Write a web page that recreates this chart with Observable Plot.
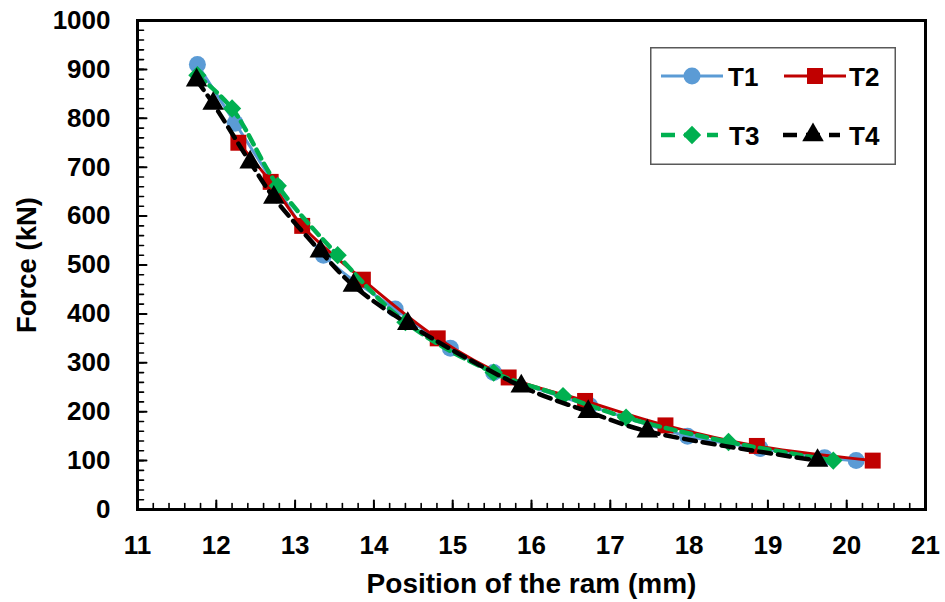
<!DOCTYPE html>
<html>
<head>
<meta charset="utf-8">
<script src="https://cdn.jsdelivr.net/npm/d3@7"></script>
<script src="https://cdn.jsdelivr.net/npm/@observablehq/plot@0.6"></script>
<style>
  html, body { margin: 0; padding: 0; background: #fff; }
  #wrap { position: relative; width: 945px; height: 602px; }
  #legend { position: absolute; left: 650px; top: 47px; }
  svg text { font-family: "Liberation Sans", Arial, sans-serif; }
</style>
</head>
<body>
<div id="wrap"></div>
<script>
// ---- data ----
const T1x = [11.76, 12.24, 12.76, 13.36, 14.27, 14.97, 15.52, 16.74, 17.98, 18.9, 19.72, 20.12];
const T1y = [910, 790, 660, 520, 410, 330, 280, 212, 150, 125, 106, 100];

const T2x = [12.28, 12.69, 13.09, 13.86, 14.81, 15.71, 16.68, 17.70, 18.86, 20.33];
const T2y = [750, 670, 580, 470, 350, 270, 222, 172, 130, 100];

const T3x = [11.76, 12.2, 12.78, 13.54, 14.4, 15.52, 16.4, 17.2, 18.5, 19.83];
const T3y = [888, 820, 662, 520, 383, 280, 232, 188, 138, 100];

const T4x = [11.75, 11.96, 12.43, 12.73, 13.32, 13.74, 14.43, 15.87, 16.72, 17.47, 19.63];
const T4y = [878, 830, 710, 638, 528, 458, 380, 252, 200, 160, 100];

const seriesNames = ["T1", "T2", "T3", "T4"];
const xTicks = [11, 12, 13, 14, 15, 16, 17, 18, 19, 20, 21];
const yTicks = [0, 100, 200, 300, 400, 500, 600, 700, 800, 900, 1000];
const xTitle = "Position of the ram (mm)";
const yTitle = "Force (kN)";

const styles = {
  T1: {color: "#5B9BD5", width: 3, dash: null, symbol: "circle", r: 8.5, rotate: 0},
  T2: {color: "#C00000", width: 3, dash: null, symbol: "square", r: 9, rotate: 0},
  T3: {color: "#00B050", width: 4.5, dash: "10,6", symbol: "square", r: 7.3, rotate: 45},
  T4: {color: "#000000", width: 4.5, dash: "12,7", symbol: "triangle", r: 8, rotate: 0}
};

const toRows = (xs, ys) => xs.map((x, i) => ({x, y: ys[i]}));
const data = {T1: toRows(T1x, T1y), T2: toRows(T2x, T2y), T3: toRows(T3x, T3y), T4: toRows(T4x, T4y)};

const xDomain = [11, 21];
const yDomain = [0, 1000];
const minorX = d3.range(110, 211, 2).map(d => d / 10);
const minorY = d3.range(0, 1001, 20);

// plain straight tick shape for vectors
const tickShape = {draw(context, l) { context.moveTo(0, 0); context.lineTo(0, -l); }};

const marks = [];
for (const name of seriesNames) {
  const s = styles[name];
  marks.push(Plot.line(data[name], {x: "x", y: "y", stroke: s.color, strokeWidth: s.width,
    strokeDasharray: s.dash, curve: "catmull-rom"}));
  marks.push(Plot.dot(data[name], {x: "x", y: "y", symbol: () => s.symbol, fill: s.color, stroke: "none",
    r: s.r, rotate: s.rotate}));
}

const chart = Plot.plot({
  width: 945,
  height: 602,
  marginLeft: 137,
  marginRight: 20,
  marginTop: 20,
  marginBottom: 93,
  style: {fontFamily: "'Liberation Sans', Arial, sans-serif", background: "#fff", color: "#000"},
  x: {domain: xDomain},
  y: {domain: yDomain},
  marks: [
    ...marks,
    // inward ticks drawn from the axis edges (domain minimums)
    Plot.vector(minorX, {x: d => d, y: () => yDomain[0], length: 6, rotate: 0, anchor: "start", shape: tickShape, stroke: "#000", strokeWidth: 1.6}),
    Plot.vector(xTicks, {x: d => d, y: () => yDomain[0], length: 9, rotate: 0, anchor: "start", shape: tickShape, stroke: "#000", strokeWidth: 2}),
    Plot.vector(minorY, {x: () => xDomain[0], y: d => d, length: 6, rotate: 90, anchor: "start", shape: tickShape, stroke: "#000", strokeWidth: 1.6}),
    Plot.vector(yTicks, {x: () => xDomain[0], y: d => d, length: 9, rotate: 90, anchor: "start", shape: tickShape, stroke: "#000", strokeWidth: 2}),
    // tick labels
    Plot.axisX(xTicks, {tickSize: 0, tickPadding: 26, fontSize: 26, fontWeight: "bold", label: null, tickFormat: d => String(d)}),
    Plot.axisY(yTicks, {tickSize: 0, tickPadding: 27, fontSize: 26, fontWeight: "bold", label: null, tickFormat: d => String(d)}),
    // titles
    Plot.axisX([], {tickSize: 0, label: xTitle, labelAnchor: "center", labelArrow: "none", labelOffset: 83, fontSize: 28, fontWeight: "bold"}),
    Plot.axisY([], {tickSize: 0, label: yTitle, labelAnchor: "center", labelArrow: "none", labelOffset: 121, fontSize: 27.5, fontWeight: "bold"}),
    Plot.frame({stroke: "#000", strokeWidth: 3})
  ]
});

document.getElementById("wrap").appendChild(chart);

// ---- legend overlay ----
const lg = d3.select("#wrap").append("svg").attr("id", "legend")
  .attr("width", 246).attr("height", 118);
lg.append("rect").attr("x", 0.75).attr("y", 0.75).attr("width", 244.5).attr("height", 116.5)
  .attr("fill", "#fff").attr("stroke", "#595959").attr("stroke-width", 1.5);
const layout = [
  {name: "T1", cx: 42, cy: 29, x0: 11, x1: 73, tx: 78},
  {name: "T2", cx: 165, cy: 29, x0: 134, x1: 196, tx: 199},
  {name: "T3", cx: 42, cy: 88, x0: 11, x1: 68, tx: 79},
  {name: "T4", cx: 163, cy: 88, x0: 133, x1: 190, tx: 199}
];
for (const it of layout) {
  const s = styles[it.name];
  lg.append("line").attr("x1", it.x0).attr("x2", it.x1).attr("y1", it.cy).attr("y2", it.cy)
    .attr("stroke", s.color).attr("stroke-width", s.width)
    .attr("stroke-dasharray", s.dash ? "14,9" : null);
  const sym = {circle: d3.symbolCircle, square: d3.symbolSquare, triangle: d3.symbolTriangle}[s.symbol];
  lg.append("path").attr("d", d3.symbol(sym, s.r * s.r * Math.PI)())
    .attr("transform", `translate(${it.cx},${it.cy}) rotate(${s.rotate})`)
    .attr("fill", s.color);
  lg.append("text").attr("x", it.tx).attr("y", it.cy + 9.5)
    .attr("font-size", 26).attr("font-weight", "bold").attr("fill", "#000").text(it.name);
}
</script>
</body>
</html>
